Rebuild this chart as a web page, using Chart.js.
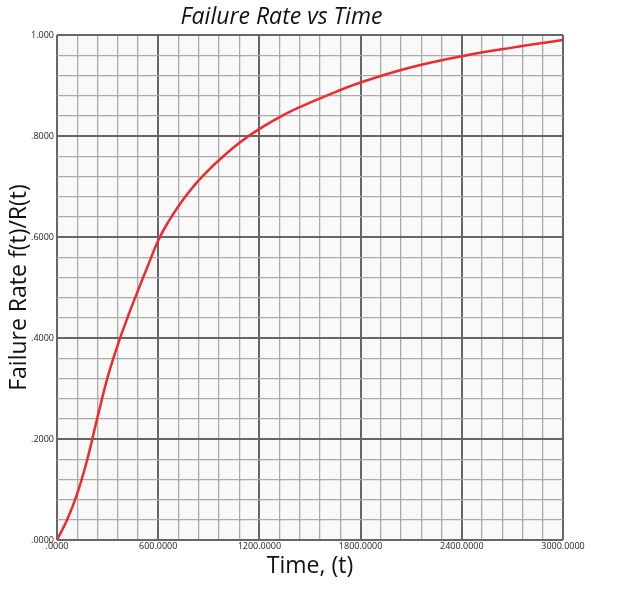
<!DOCTYPE html>
<html>
<head>
<meta charset="utf-8">
<script src="https://cdn.jsdelivr.net/npm/chart.js@4"></script>
<style>
  html, body { margin: 0; padding: 0; background: #fff; }
  #chart { display: block; }
</style>
</head>
<body>
<canvas id="chart" width="624" height="600"></canvas>
<script>
'use strict';

// time values (t) and failure rate
const times = [0, 60, 120, 180, 240, 300, 360, 420, 480, 540, 600, 660, 720, 780, 840,
  900, 960, 1080, 1200, 1350, 1500, 1650, 1800, 2100, 2400, 2700, 3000];
const failureRate = [0, 0.04, 0.092, 0.16, 0.243, 0.322, 0.386, 0.442, 0.494, 0.544,
  0.593, 0.63, 0.661, 0.688, 0.712, 0.733, 0.752, 0.786, 0.814, 0.843, 0.866, 0.887,
  0.906, 0.936, 0.958, 0.975, 0.99];

const xTickValues = [0, 600, 1200, 1800, 2400, 3000];
const xTickLabels = ['.0000', '600.0000', '1200.0000', '1800.0000', '2400.0000', '3000.0000'];
const yTickValues = [0, 0.2, 0.4, 0.6, 0.8, 1];
const yTickLabels = ['.0000', '.2000', '.4000', '.6000', '.8000', '1.000'];

function labelFor(values, labels, v) {
  const i = values.findIndex(m => Math.abs(m - v) < 1e-6);
  return i >= 0 ? labels[i] : '';
}
function isMajor(values, v) {
  return values.some(m => Math.abs(m - v) < 1e-6);
}

const plotBg = {
  id: 'plotBg',
  beforeDraw(chart) {
    const a = chart.chartArea;
    const c = chart.ctx;
    c.save();
    c.fillStyle = '#f9f9f9';
    c.fillRect(a.left, a.top, a.right - a.left, a.bottom - a.top);
    c.restore();
  }
};

const ctx = document.getElementById('chart').getContext('2d');
new Chart(ctx, {
  type: 'scatter',
  data: {
    datasets: [{
      data: times.map((t, i) => ({ x: t, y: failureRate[i] })),
      showLine: true,
      borderColor: '#ee2a2e',
      borderWidth: 2.5,
      pointRadius: 0,
      tension: 0.4
    }]
  },
  options: {
    responsive: false,
    animation: false,
    layout: { padding: { left: 0, right: 61, top: 0, bottom: 17 } },
    plugins: {
      legend: { display: false },
      tooltip: { enabled: false },
      title: {
        display: true,
        text: 'Failure Rate vs Time',
        color: '#111',
        font: { family: 'Open Sans', size: 23, style: 'italic', weight: 'normal', lineHeight: 1.2 },
        padding: { top: 4, bottom: 3.4 }
      }
    },
    scales: {
      x: {
        type: 'linear',
        min: 0,
        max: 3000,
        afterFit(scale) { scale.height = 43; },
        afterBuildTicks(scale) {
          scale.ticks = [];
          for (let v = 0; v <= 3000; v += 120) scale.ticks.push({ value: v });
        },
        ticks: {
          autoSkip: false,
          maxRotation: 0,
          padding: 1,
          color: '#222',
          font: { family: 'Open Sans', size: 9 },
          callback: v => labelFor(xTickValues, xTickLabels, v)
        },
        grid: {
          drawTicks: false,
          color: c => isMajor(xTickValues, c.tick.value) ? '#666' : '#aaa',
          lineWidth: c => isMajor(xTickValues, c.tick.value) ? 2 : 1.3
        },
        border: { display: false },
        title: {
          display: true,
          text: 'Time, (t)',
          color: '#111',
          font: { family: 'Open Sans', size: 23 },
          padding: { top: 0, bottom: 3 }
        }
      },
      y: {
        type: 'linear',
        min: 0,
        max: 1,
        afterFit(scale) { scale.width = 57; },
        afterBuildTicks(scale) {
          scale.ticks = [];
          for (let k = 0; k <= 25; k++) scale.ticks.push({ value: Math.round(k * 4) / 100 });
        },
        ticks: {
          autoSkip: false,
          padding: 3,
          color: '#222',
          font: { family: 'Open Sans', size: 9 },
          callback: v => labelFor(yTickValues, yTickLabels, v)
        },
        grid: {
          drawTicks: false,
          color: c => isMajor(yTickValues, c.tick.value) ? '#666' : '#aaa',
          lineWidth: c => isMajor(yTickValues, c.tick.value) ? 2 : 1.3
        },
        border: { display: false },
        title: {
          display: true,
          text: 'Failure Rate f(t)/R(t)',
          color: '#111',
          font: { family: 'Open Sans', size: 23 },
          padding: { top: 6, bottom: 0 }
        }
      }
    }
  },
  plugins: [plotBg]
});
</script>
</body>
</html>
